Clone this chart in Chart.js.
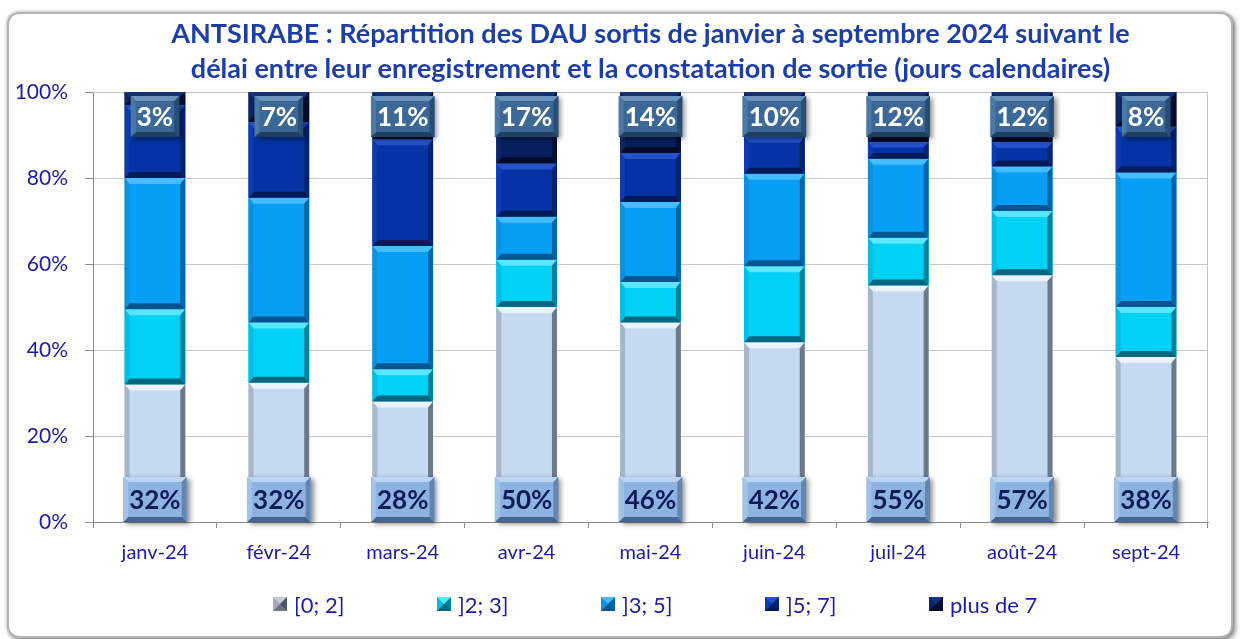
<!DOCTYPE html>
<html>
<head>
<meta charset="utf-8">
<script src="https://cdn.jsdelivr.net/npm/chart.js@4.4.1/dist/chart.umd.min.js"></script>
<style>
html,body{margin:0;padding:0;background:#fff;width:1242px;height:639px;overflow:hidden;font-family:Lato,sans-serif}
#frame{position:absolute;left:7px;top:12px;width:1222px;height:622px;border:2px solid #b4b4b4;border-radius:12px;box-shadow:0 0 3px 1px rgba(0,0,0,0.22),3px 3px 4px rgba(0,0,0,0.35);background:#fff}
#c{position:absolute;left:0;top:0}
#legend{position:absolute;left:264px;top:577px;height:26px;display:flex;}
.item{width:164px;display:flex;align-items:center;color:#1c1ca0;font-size:22px;font-family:Lato,sans-serif;white-space:nowrap}
.box{width:0;height:0;border-style:solid;border-width:7.5px;margin-right:7px}
</style>
</head>
<body>
<div id="frame">
  <canvas id="c" width="1222" height="622"></canvas>
  <div id="legend"></div>
</div>
<script>
// ---------- data ----------
const categories = ['janv-24','févr-24','mars-24','avr-24','mai-24','juin-24','juil-24','août-24','sept-24'];
const seriesNames = ['[0; 2]', ']2; 3]', ']3; 5]', ']5; 7]', 'plus de 7'];
const s0_2   = [32.0, 32.4, 28.0, 50.0, 46.4, 41.8, 55.0, 57.4, 38.4];
const s2_3   = [17.5, 14.0,  7.5, 11.0,  9.4, 17.7, 11.1, 14.9, 11.6];
const s3_5   = [30.5, 29.0, 28.7, 10.0, 18.6, 21.5, 18.4, 10.4, 31.3];
const s5_7   = [17.0, 17.6, 24.8, 12.4, 11.4,  8.6,  3.9,  5.7, 10.7];
const sPlus7 = [ 3.0,  7.0, 11.0, 16.6, 14.2, 10.4, 11.6, 11.6,  8.0];
const yTicks = [0, 20, 40, 60, 80, 100];

// ---------- styles ----------
const SEG_STYLE = [
  {base:'#c5d9f1', top:'#eaf2fc', left:'#a7b6ca', right:'#6b798d', bottom:'#8393a8'},
  {base:'#00d2f7', top:'#5ae6ff', left:'#00bfe6', right:'#00809c', bottom:'#006780'},
  {base:'#069ff5', top:'#45bcff', left:'#0a91df', right:'#0466a8', bottom:'#045590'},
  {base:'#0533a3', top:'#2552c9', left:'#0a3bb0', right:'#03236f', bottom:'#021a57'},
  {base:'#061e5e', top:'#17327c', left:'#0b2567', right:'#020f36', bottom:'#010a28'}
];
const LEGEND_STYLE = [
  {top:'#c3cbd6', left:'#a2acbb', right:'#4c5665', bottom:'#6b7585'},
  SEG_STYLE[1], SEG_STYLE[2], SEG_STYLE[3], SEG_STYLE[4]
];
const BOTTOM_BOX = {base:'#8db3e2', top:'#bcd5f2', left:'#a3c2e8', right:'#6385b0', bottom:'#45648e', text:'#0e1d58'};
const TOP_BOX    = {base:'#3b6896', top:'#6a93bd', left:'#4b78a5', right:'#284d75', bottom:'#21405f', text:'#ffffff'};
const TEXT_BLUE = '#1c1ca0';
const FONT = 'Lato, sans-serif';

function poly(ctx, color, pts){
  ctx.beginPath();
  ctx.moveTo(pts[0][0], pts[0][1]);
  for (let i=1;i<pts.length;i++) ctx.lineTo(pts[i][0], pts[i][1]);
  ctx.closePath();
  ctx.fillStyle = color;
  ctx.fill();
}
function drawBevel(ctx,l,t,r,b,st,bv,bh){
  const h=b-t, w=r-l;
  const vy=Math.min(bv,h/3), vx=Math.min(bh,w/4);
  poly(ctx, st.top,    [[l,t],[r,t],[r-vx,t+vy],[l+vx,t+vy]]);
  poly(ctx, st.bottom, [[l,b],[r,b],[r-vx,b-vy],[l+vx,b-vy]]);
  poly(ctx, st.left,   [[l,t],[l+vx,t+vy],[l+vx,b-vy],[l,b]]);
  poly(ctx, st.right,  [[r,t],[r-vx,t+vy],[r-vx,b-vy],[r,b]]);
}

const bevelPlugin = {
  id: 'bevel',
  afterDatasetsDraw(chart){
    const ctx = chart.ctx;
    ctx.save();
    chart.data.datasets.forEach((ds, di) => {
      const meta = chart.getDatasetMeta(di);
      const st = SEG_STYLE[di];
      meta.data.forEach(el => {
        const p = el.getProps(['x','y','base','width'], true);
        const l = p.x - p.width/2, r = p.x + p.width/2;
        const t = Math.min(p.y, p.base), b = Math.max(p.y, p.base);
        if (b - t < 1) return;
        drawBevel(ctx, l, t, r, b, st, 6, 5);
      });
    });
    ctx.restore();
  }
};

const plotBorderPlugin = {
  id: 'plotBorder',
  beforeDatasetsDraw(chart){
    const {ctx, chartArea:a} = chart;
    ctx.save();
    ctx.strokeStyle = '#c4c4c4';
    ctx.lineWidth = 1;
    ctx.beginPath();
    ctx.moveTo(a.left, a.top + 0.5);
    ctx.lineTo(a.right - 0.5, a.top + 0.5);
    ctx.lineTo(a.right - 0.5, a.bottom);
    ctx.stroke();
    ctx.restore();
  }
};

function labelBox(ctx, cx, top, h, text, st){
  ctx.font = 'bold 26px ' + FONT;
  const w = ctx.measureText(text).width + 12;
  const l = cx - w/2, r = cx + w/2, b = top + h;
  ctx.save();
  ctx.shadowColor = 'rgba(0,0,0,0.45)';
  ctx.shadowBlur = 5;
  ctx.shadowOffsetX = 3;
  ctx.shadowOffsetY = 2;
  ctx.fillStyle = st.base;
  ctx.fillRect(l, top, w, h);
  ctx.restore();
  drawBevel(ctx, l, top, r, b, st, 5, 5);
  ctx.fillStyle = st.text;
  ctx.textAlign = 'center';
  ctx.textBaseline = 'middle';
  ctx.fillText(text, cx, top + h/2 + 1);
}

const labelsPlugin = {
  id: 'segLabels',
  afterDatasetsDraw(chart){
    const ctx = chart.ctx;
    const ys = chart.scales.y;
    const n = chart.data.datasets.length;
    const m0 = chart.getDatasetMeta(0);
    const mL = chart.getDatasetMeta(n-1);
    ctx.save();
    const y0 = ys.getPixelForValue(0);
    const y100 = ys.getPixelForValue(100);
    m0.data.forEach((el, i) => {
      const v = chart.data.datasets[0].data[i];
      labelBox(ctx, el.x, y0 - 45, 45, Math.round(v) + '%', BOTTOM_BOX);
    });
    mL.data.forEach((el, i) => {
      const v = chart.data.datasets[n-1].data[i];
      labelBox(ctx, el.x, y100 + 4, 41, Math.round(v) + '%', TOP_BOX);
    });
    ctx.restore();
  }
};

const seriesValues = [s0_2, s2_3, s3_5, s5_7, sPlus7];
const datasets = seriesNames.map((name, i) => ({
  label: name,
  data: seriesValues[i],
  backgroundColor: SEG_STYLE[i].base,
  borderWidth: 0,
  barPercentage: 0.49,
  categoryPercentage: 1.0
}));

const chart = new Chart(document.getElementById('c'), {
  type: 'bar',
  data: { labels: categories, datasets },
  options: {
    responsive: false,
    animation: false,
    layout: { padding: { left: 0, right: 23, top: 0, bottom: 64 } },
    plugins: {
      legend: { display: false },
      tooltip: { enabled: false },
      title: {
        display: true,
        fullSize: false,
        text: ['ANTSIRABE : Répartition des DAU sortis de janvier à septembre 2024 suivant le',
               'délai entre leur enregistrement et la constatation de sortie (jours calendaires)'],
        color: '#1d3ea6',
        font: { family: FONT, size: 27, weight: 'bold', lineHeight: '35px' },
        padding: { top: 2.5, bottom: 5.5 }
      }
    },
    scales: {
      x: {
        stacked: true,
        grid: { display: true, drawOnChartArea: false, drawTicks: true, tickLength: 6, color: '#8c8c8c', offset: true },
        border: { display: true, color: '#8c8c8c', width: 1 },
        ticks: { color: TEXT_BLUE, font: { family: FONT, size: 20 }, padding: 13, maxRotation: 0 },
        afterFit(scale){ scale.height = 50; }
      },
      y: {
        stacked: true,
        min: 0, max: 100,
        afterBuildTicks(scale){ scale.ticks = yTicks.map(v => ({ value: v })); },
        grid: { color: '#c8c8c8', borderDash: [4, 3], tickLength: 8, tickColor: '#8c8c8c', tickBorderDash: [] },
        border: { display: true, color: '#8c8c8c', width: 1, dash: [] },
        ticks: { color: TEXT_BLUE, font: { family: FONT, size: 21 }, padding: 17, callback: v => v + '%' },
        afterFit(scale){ scale.width = 84; }
      }
    }
  },
  plugins: [plotBorderPlugin, bevelPlugin, labelsPlugin]
});

// HTML legend built from the chart's datasets
const legendEl = document.getElementById('legend');
chart.data.datasets.forEach((ds, i) => {
  const st = LEGEND_STYLE[i];
  const item = document.createElement('div');
  item.className = 'item';
  const box = document.createElement('span');
  box.className = 'box';
  box.style.borderColor = `${st.top} ${st.right} ${st.bottom} ${st.left}`;
  const txt = document.createElement('span');
  txt.textContent = ds.label;
  item.appendChild(box);
  item.appendChild(txt);
  legendEl.appendChild(item);
});
</script>
</body>
</html>
